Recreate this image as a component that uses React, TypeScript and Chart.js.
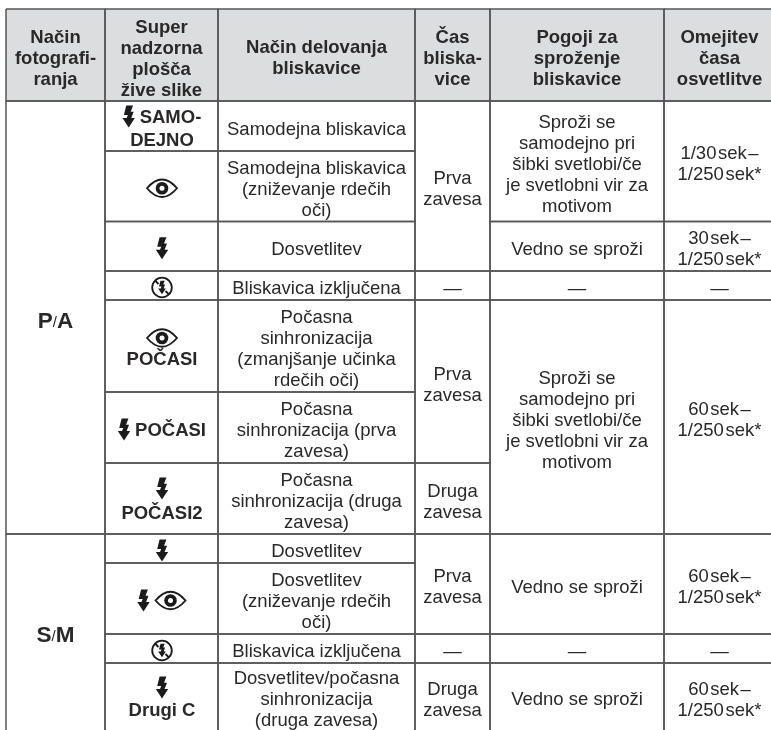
import React, { useEffect, useRef } from "react";
import { Chart, registerables } from "chart.js";

Chart.register(...registerables);

const columnEdges = [6, 105, 218, 415, 490, 664, 775];
const rowEdges = [9, 101, 151, 221.5, 271, 300, 392, 463, 534, 563, 634, 663, 735];

const headers = [
  ["Način", "fotografi-", "ranja"],
  ["Super", "nadzorna", "plošča", "žive slike"],
  ["Način delovanja", "bliskavice"],
  ["Čas", "bliska-", "vice"],
  ["Pogoji za", "sproženje", "bliskavice"],
  ["Omejitev", "časa", "osvetlitve"],
];

const dash = "—";
const auto = ["Sproži se", "samodejno pri", "šibki svetlobi/če", "je svetlobni vir za", "motivom"];
const always = ["Vedno se sproži"];
const first = ["Prva", "zavesa"];
const second = ["Druga", "zavesa"];
const offText = ["Bliskavica izključena"];

// [row from, row to (exclusive), lines]
const modeCells: [number, number, string[]][] = [
  [1, 8, ["P/A"]],
  [8, 12, ["S/M"]],
];
const indicatorCells: [number, (string | { i: string })[][], number][] = [
  [1, [[{ i: "bolt" }, "SAMO-"], ["DEJNO"]], 23],
  [2, [[{ i: "eye" }]], 21],
  [3, [[{ i: "bolt" }]], 21],
  [4, [[{ i: "off" }]], 21],
  [5, [[{ i: "eye" }], ["POČASI"]], 20],
  [6, [[{ i: "bolt" }, "POČASI"]], 21],
  [7, [[{ i: "bolt" }], ["POČASI2"]], 24],
  [8, [[{ i: "bolt" }]], 21],
  [9, [[{ i: "bolt" }, { i: "eye" }]], 21],
  [10, [[{ i: "off" }]], 21],
  [11, [[{ i: "bolt" }], ["Drugi C"]], 22],
];
const operationCells: [number, number, string[]][] = [
  [1, 2, ["Samodejna bliskavica"]],
  [2, 3, ["Samodejna bliskavica", "(zniževanje rdečih", "oči)"]],
  [3, 4, ["Dosvetlitev"]],
  [4, 5, offText],
  [5, 6, ["Počasna", "sinhronizacija", "(zmanjšanje učinka", "rdečih oči)"]],
  [6, 7, ["Počasna", "sinhronizacija (prva", "zavesa)"]],
  [7, 8, ["Počasna", "sinhronizacija (druga", "zavesa)"]],
  [8, 9, ["Dosvetlitev"]],
  [9, 10, ["Dosvetlitev", "(zniževanje rdečih", "oči)"]],
  [10, 11, offText],
  [11, 12, ["Dosvetlitev/počasna", "sinhronizacija", "(druga zavesa)"]],
];
const timingCells: [number, number, string[]][] = [
  [1, 4, first],
  [4, 5, [dash]],
  [5, 7, first],
  [7, 8, second],
  [8, 10, first],
  [10, 11, [dash]],
  [11, 12, second],
];
const conditionCells: [number, number, string[]][] = [
  [1, 3, auto],
  [3, 4, always],
  [4, 5, [dash]],
  [5, 8, auto],
  [8, 10, always],
  [10, 11, [dash]],
  [11, 12, always],
];
const shutterCells: [number, number, string[]][] = [
  [1, 3, ["1/30\u200Asek\u200A–", "1/250\u200Asek*"]],
  [3, 4, ["30\u200Asek\u200A–", "1/250\u200Asek*"]],
  [4, 5, [dash]],
  [5, 8, ["60\u200Asek\u200A–", "1/250\u200Asek*"]],
  [8, 10, ["60\u200Asek\u200A–", "1/250\u200Asek*"]],
  [10, 11, [dash]],
  [11, 12, ["60\u200Asek\u200A–", "1/250\u200Asek*"]],
];

const INK = "#2a2829";
const RULE = "#555557";
const HEAD = "#dcddde";
const FS = 18.5;
const PITCH = 21;
const FAMILY = '"Liberation Sans", Arial, sans-serif';

function boxes() {
  const out: [number, number, number, number][] = [];
  for (let c = 0; c < 6; c++) out.push([c, c + 1, 0, 1]);
  modeCells.forEach(([a, b]) => out.push([0, 1, a, b]));
  indicatorCells.forEach(([r]) => out.push([1, 2, r, r + 1]));
  operationCells.forEach(([a, b]) => out.push([2, 3, a, b]));
  timingCells.forEach(([a, b]) => out.push([3, 4, a, b]));
  conditionCells.forEach(([a, b]) => out.push([4, 5, a, b]));
  shutterCells.forEach(([a, b]) => out.push([5, 6, a, b]));
  return out;
}

function bolt(ctx: CanvasRenderingContext2D, x: number, y: number, s = 1) {
  const p = [
    [-2.4, -11], [4.4, -11], [2, -4.8], [5, -4.8], [2.6, 1.6], [6.2, 1.6],
    [0, 11], [-6.2, 1.6], [-2, 1.6], [-0.8, -1.6], [-4.8, -1.6],
  ];
  ctx.beginPath();
  p.forEach(([a, b], i) => (i ? ctx.lineTo(x + a * s, y + b * s) : ctx.moveTo(x + a * s, y + b * s)));
  ctx.closePath();
  ctx.fillStyle = "#1c1a1b";
  ctx.fill();
}

function eye(ctx: CanvasRenderingContext2D, x: number, y: number) {
  ctx.beginPath();
  ctx.moveTo(x - 15, y);
  ctx.quadraticCurveTo(x, y - 17.5, x + 15, y);
  ctx.quadraticCurveTo(x, y + 17.5, x - 15, y);
  ctx.closePath();
  ctx.lineWidth = 1.9;
  ctx.strokeStyle = "#1c1a1b";
  ctx.stroke();
  ctx.beginPath();
  ctx.arc(x, y, 6.3, 0, Math.PI * 2);
  ctx.fillStyle = "#1c1a1b";
  ctx.fill();
  ctx.beginPath();
  ctx.arc(x, y, 2.5, 0, Math.PI * 2);
  ctx.fillStyle = "#fff";
  ctx.fill();
}

function off(ctx: CanvasRenderingContext2D, x: number, y: number) {
  ctx.beginPath();
  ctx.arc(x, y, 9.8, 0, Math.PI * 2);
  ctx.lineWidth = 1.8;
  ctx.strokeStyle = "#1c1a1b";
  ctx.stroke();
  ctx.beginPath();
  ctx.moveTo(x - 7, y - 7);
  ctx.lineTo(x - 3.5, y - 3.5);
  ctx.moveTo(x + 7, y + 7);
  ctx.lineTo(x + 3.5, y + 3.5);
  ctx.stroke();
  bolt(ctx, x, y, 0.62);
}

const ICON_W: Record<string, number> = { bolt: 12, eye: 32, off: 21 };

const tablePlugin = {
  id: "tableContent",
  beforeDatasetsDraw(chart: any) {
    const { ctx, scales } = chart;
    const X = (v: number) => scales.x.getPixelForValue(v);
    const Y = (v: number) => scales.y.getPixelForValue(v);
    ctx.save();
    ctx.fillStyle = HEAD;
    ctx.fillRect(X(columnEdges[0]), Y(rowEdges[0]), X(columnEdges[6]) - X(columnEdges[0]), Y(rowEdges[1]) - Y(rowEdges[0]));
    ctx.restore();
  },
  afterDatasetsDraw(chart: any) {
    const { ctx, scales } = chart;
    const X = (v: number) => scales.x.getPixelForValue(v);
    const Y = (v: number) => scales.y.getPixelForValue(v);
    ctx.save();
    ctx.textBaseline = "alphabetic";
    ctx.textAlign = "center";
    ctx.fillStyle = INK;

    const block = (c: number, r0: number, r1: number, lines: string[], bold: boolean, off = 2) => {
      const cx = (X(columnEdges[c]) + X(columnEdges[c + 1])) / 2;
      const r1Edge = Math.min(rowEdges[r1], 730);
      const cy = (Y(rowEdges[r0]) + Y(r1Edge)) / 2 + off;
      ctx.font = `${bold ? "bold " : ""}${FS}px ${FAMILY}`;
      ctx.fillStyle = INK;
      lines.forEach((l, i) => {
        const y = cy + (i - (lines.length - 1) / 2) * PITCH + FS * 0.36;
        ctx.fillText(l, cx, y);
      });
    };

    headers.forEach((h, c) => block(c, 0, 1, h, true, h.length === 4 ? 2.5 : 2));
    operationCells.forEach(([a, b, l]) => block(2, a, b, l, false));
    timingCells.forEach(([a, b, l]) => block(3, a, b, l, false));
    conditionCells.forEach(([a, b, l]) => block(4, a, b, l, false));
    shutterCells.forEach(([a, b, l]) => block(5, a, b, l, false));

    // Mode column: heavy capitals, light slash
    modeCells.forEach(([a, b, l]) => {
      const [p, q] = l[0].split("/");
      const cx = (X(columnEdges[0]) + X(columnEdges[1])) / 2;
      const cy = (Y(rowEdges[a]) + Y(Math.min(rowEdges[b], 730))) / 2 + 2;
      const big = `bold 22.5px ${FAMILY}`;
      const small = `15px ${FAMILY}`;
      ctx.font = big;
      const wp = ctx.measureText(p).width;
      const wq = ctx.measureText(q).width;
      ctx.font = small;
      const ws = ctx.measureText("/").width;
      let x = cx - (wp + ws + wq) / 2;
      ctx.textAlign = "left";
      ctx.font = big;
      ctx.fillText(p, x, cy + 8);
      x += wp;
      ctx.font = small;
      ctx.fillText("/", x, cy + 7);
      x += ws;
      ctx.font = big;
      ctx.fillText(q, x, cy + 8);
      ctx.textAlign = "center";
    });

    // Indicator column: icons and bold words
    indicatorCells.forEach(([r, lines, gap]) => {
      const cx = (X(columnEdges[1]) + X(columnEdges[2])) / 2 + 0.5;
      const cy = (Y(rowEdges[r]) + Y(Math.min(rowEdges[r + 1], 730))) / 2 + 2;
      lines.forEach((line, i) => {
        const y = cy + (i - (lines.length - 1) / 2) * gap;
        ctx.font = `bold ${FS}px ${FAMILY}`;
        const widths = line.map((t) => (typeof t === "string" ? ctx.measureText(t).width : ICON_W[t.i]));
        const sep = 5;
        const total = widths.reduce((s, w) => s + w, 0) + sep * (line.length - 1);
        let x = cx - total / 2;
        line.forEach((t, k) => {
          const mid = x + widths[k] / 2;
          if (typeof t === "string") {
            ctx.fillStyle = INK;
            ctx.fillText(t, mid, y + FS * 0.36);
          } else if (t.i === "bolt") bolt(ctx, mid, y);
          else if (t.i === "eye") eye(ctx, mid, y);
          else off(ctx, mid, y);
          x += widths[k] + sep;
        });
      });
    });
    ctx.restore();
  },
};

export default function App() {
  const ref = useRef<HTMLCanvasElement | null>(null);
  useEffect(() => {
    document.body.style.margin = "0";
    const datasets = boxes().map(([c0, c1, r0, r1]) => ({
      data: [
        { x: columnEdges[c0], y: rowEdges[r0] },
        { x: columnEdges[c1], y: rowEdges[r0] },
        { x: columnEdges[c1], y: rowEdges[r1] },
        { x: columnEdges[c0], y: rowEdges[r1] },
        { x: columnEdges[c0], y: rowEdges[r0] },
      ],
      showLine: true,
      borderColor: RULE,
      borderWidth: 1.5,
      pointRadius: 0,
      tension: 0,
      fill: false,
      clip: false as const,
    }));
    const chart = new Chart(ref.current!, {
      type: "scatter",
      data: { datasets },
      plugins: [tablePlugin as any],
      options: {
        animation: false,
        responsive: false,
        layout: { padding: 0 },
        events: [],
        plugins: { legend: { display: false }, tooltip: { enabled: false }, title: { display: false } },
        scales: {
          x: { type: "linear", min: 0, max: 771, display: false },
          y: { type: "linear", min: 0, max: 730, reverse: true, display: false },
        },
      },
    });
    return () => chart.destroy();
  }, []);
  return (
    <div style={{ position: "fixed", left: 0, top: 0, width: 771, height: 730, overflow: "hidden", background: "#fff" }}>
      <canvas ref={ref} width={771} height={730} style={{ display: "block" }} />
    </div>
  );
}
